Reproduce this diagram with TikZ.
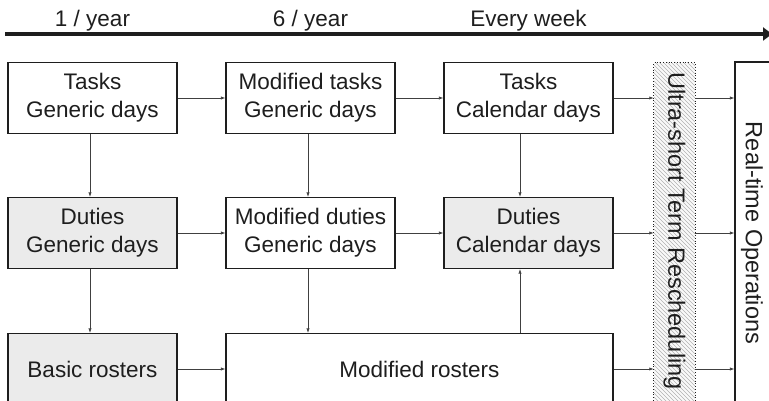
\documentclass[tikz,border=0pt]{standalone}
\usepackage{fontspec}
\setmainfont{Liberation Sans}
\usetikzlibrary{arrows.meta,positioning}
\definecolor{boxgray}{HTML}{EBEBEB}
\definecolor{ink}{HTML}{1E1E1E}
\begin{document}
\begin{tikzpicture}[x=1pt,y=1pt,
  every node/.style={font=\fontsize{22.5}{28}\selectfont, text=ink},
  stepbox/.style={draw=ink, line width=1.1pt, minimum width=169pt, minimum height=71pt, align=center, inner sep=0pt, fill=white},
  graybox/.style={stepbox, fill=boxgray},
  conn/.style={draw=ink!85, line width=0.7pt, -{Latex[length=4.5pt,width=3.2pt]}},
  hatch/.style={draw=gray!60, line width=0.45pt},
]
\clip (0,0) rectangle (769,401);
% time axis
\coordinate (ax0) at (5,367);
\coordinate (ax1) at (772,367);
\draw[line width=4pt, ink, -{Triangle[length=9pt,width=13pt]}] (ax0) -- (ax1);
\node[anchor=base] (l1) at (92.5,374) {1 / year};
\node[anchor=base] (l2) at (310.5,374) {6 / year};
\node[anchor=base] (l3) at (528.5,374) {Every week};
% row 1
\node[stepbox] (t1) at (92.5,303) {Tasks\\Generic days};
\node[stepbox] (t2) at (310.5,303) {Modified tasks\\Generic days};
\node[stepbox] (t3) at (528.5,303) {Tasks\\Calendar days};
% row 2
\node[graybox] (d1) at (92.5,168) {Duties\\Generic days};
\node[stepbox] (d2) at (310.5,168) {Modified duties\\Generic days};
\node[graybox] (d3) at (528.5,168) {Duties\\Calendar days};
% row 3
\node[graybox] (r1) at (92.5,32) {Basic rosters};
\node[stepbox, minimum width=387pt] (r2) at (419.5,32) {Modified rosters};
% strip
\node[minimum width=41pt, minimum height=360pt, inner sep=0pt, fill=gray!5] (s) at (674.5,158) {};
\begin{scope}
  \clip (s.south west) rectangle (s.north east);
  \foreach \i in {-60,-56,...,400} {
    \draw[hatch] (654,\i) -- (695,\i-41);
  }
\end{scope}
\draw[ink, dotted, line width=0.8pt] (s.south west) rectangle (s.north east);
\node[rotate=-90, font=\fontsize{23.5}{28}\selectfont] (stxt) at (674.5,170) {Ultra-short Term Rescheduling};
% real-time box
\node[draw=ink, line width=1.1pt, minimum width=70pt, minimum height=360pt, inner sep=0pt, fill=white] (rt) at (770,159) {};
\node[rotate=-90, font=\fontsize{23.5}{28}\selectfont] (rtxt) at (752,168) {Real-time Operations};
% connectors
\coordinate (c1) at (90,0);
\coordinate (c2) at (308,0);
\coordinate (c3) at (520,0);
\draw[conn] (t1.south -| c1) -- (d1.north -| c1);
\draw[conn] (t2.south -| c2) -- (d2.north -| c2);
\draw[conn] (t3.south -| c3) -- (d3.north -| c3);
\draw[conn] (d1.south -| c1) -- (r1.north -| c1);
\draw[conn] (d2.south -| c2) -- (r2.north -| c2);
\draw[conn] (r2.north -| c3) -- (d3.south -| c3);
\draw[conn] (t1) -- (t2);
\draw[conn] (t2) -- (t3);
\draw[conn] (d1) -- (d2);
\draw[conn] (d2) -- (d3);
\draw[conn] (r1) -- (r2.west);
\draw[conn] (t3.east) -- (s.west |- t3);
\draw[conn] (d3.east) -- (s.west |- d3);
\draw[conn] (r2.east) -- (s.west |- r2);
\draw[conn] (s.east |- t3) -- (rt.west |- t3);
\draw[conn] (s.east |- d3) -- (rt.west |- d3);
\draw[conn] (s.east |- r2) -- (rt.west |- r2);
\end{tikzpicture}
\end{document}
